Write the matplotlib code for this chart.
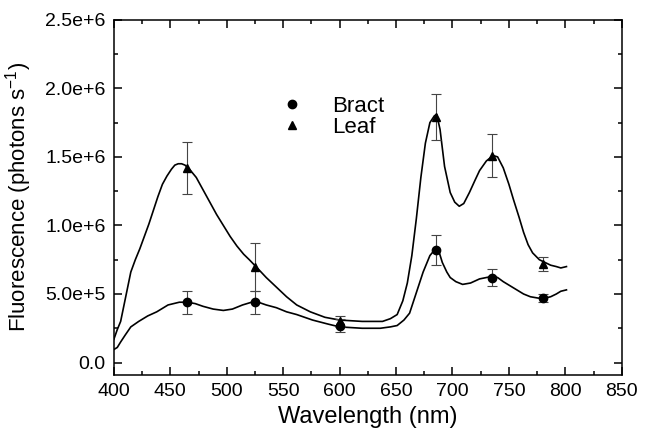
"""
Fluorescence emission spectra of bract vs leaf, with mean +/- error markers.
"""
import numpy as np
import matplotlib
matplotlib.use("Agg")
import matplotlib.pyplot as plt
from matplotlib.ticker import MultipleLocator, FuncFormatter

plt.rcParams["font.family"] = ["Liberation Sans", "DejaVu Sans"]
plt.rcParams["mathtext.default"] = "regular"

# spectra (wavelength nm, photons/s in units of 1e6)
leaf_wl = [400, 403, 406, 410, 415, 419, 423, 427, 431, 435, 439, 443, 447, 451,
           454, 457, 460, 463, 467, 473, 479, 485, 491, 497, 503, 509, 515, 520,
           527, 535, 544, 553, 562, 574, 587, 600, 620, 638, 645, 651, 656, 660,
           664, 668, 672, 676, 680, 684, 686, 689, 693, 698, 702, 706, 710, 715,
           720, 724, 730, 736, 740, 745, 750, 754, 759, 763, 767, 771, 777, 782,
           787, 792, 796, 801]
leaf_sp = [0.17, 0.24, 0.30, 0.46, 0.66, 0.75, 0.83, 0.92, 1.01, 1.11, 1.21, 1.30,
           1.36, 1.41, 1.44, 1.45, 1.45, 1.44, 1.41, 1.35, 1.26, 1.17, 1.08, 1.00,
           0.92, 0.85, 0.79, 0.75, 0.69, 0.62, 0.55, 0.48, 0.42, 0.37, 0.33, 0.31,
           0.30, 0.30, 0.32, 0.35, 0.45, 0.58, 0.78, 1.05, 1.35, 1.60, 1.75, 1.80,
           1.81, 1.70, 1.43, 1.24, 1.17, 1.14, 1.16, 1.24, 1.33, 1.40, 1.47, 1.51,
           1.50, 1.42, 1.30, 1.19, 1.06, 0.95, 0.86, 0.80, 0.75, 0.73, 0.71, 0.70,
           0.69, 0.70]

bract_wl = [400, 403, 406, 410, 415, 422, 430, 438, 448, 458, 465, 472, 479, 488,
            497, 505, 514, 522, 528, 535, 544, 553, 562, 576, 590, 600, 620, 636,
            645, 651, 657, 662, 668, 674, 680, 683, 686, 688, 691, 695, 698, 703,
            709, 716, 724, 730, 736, 740, 745, 751, 757, 763, 769, 776, 782, 787,
            792, 796, 801]
bract_sp = [0.095, 0.11, 0.15, 0.20, 0.26, 0.30, 0.34, 0.37, 0.42, 0.44, 0.44,
            0.43, 0.41, 0.39, 0.38, 0.39, 0.42, 0.44, 0.44, 0.42, 0.40, 0.37,
            0.35, 0.31, 0.28, 0.26, 0.25, 0.25, 0.26, 0.27, 0.31, 0.36, 0.51,
            0.66, 0.78, 0.81, 0.83, 0.81, 0.73, 0.66, 0.62, 0.59, 0.57, 0.58,
            0.61, 0.62, 0.63, 0.62, 0.59, 0.56, 0.53, 0.50, 0.48, 0.47, 0.47,
            0.48, 0.50, 0.52, 0.53]

# measured points with error bars
pt_wl = [465, 525, 600, 685, 735, 780]
leaf_pt = [1.42, 0.70, 0.30, 1.79, 1.51, 0.72]
leaf_err = [0.19, 0.175, 0.04, 0.17, 0.155, 0.05]
bract_pt = [0.44, 0.44, 0.27, 0.82, 0.62, 0.47]
bract_err = [0.085, 0.085, 0.05, 0.11, 0.065, 0.03]

SCALE = 1e6


def sci_fmt(v, pos):
    if abs(v) < 1e-9:
        return "0.0"
    exp = int(np.floor(np.log10(abs(v))))
    return f"{v / 10**exp:.1f}e+{exp}"


fig = plt.figure(figsize=(6.47, 4.40), dpi=100)
ax = fig.add_axes([0.176, 0.148, 0.785, 0.807])

ax.plot(leaf_wl, np.array(leaf_sp) * SCALE, color="black", lw=1.2)
ax.plot(bract_wl, np.array(bract_sp) * SCALE, color="black", lw=1.2)

ax.errorbar(pt_wl, np.array(leaf_pt) * SCALE, yerr=np.array(leaf_err) * SCALE,
            fmt="none", ecolor="#444444", elinewidth=0.8, capsize=3.5, capthick=0.8)
ax.errorbar(pt_wl, np.array(bract_pt) * SCALE, yerr=np.array(bract_err) * SCALE,
            fmt="none", ecolor="#444444", elinewidth=0.8, capsize=3.5, capthick=0.8)
ax.plot(pt_wl, np.array(bract_pt) * SCALE, "o", color="black", ms=6, label="Bract")
ax.plot(pt_wl, np.array(leaf_pt) * SCALE, "^", color="black", ms=6, label="Leaf")

ax.set_xlim(400, 850)
ax.set_ylim(-0.09e6, 2.5e6)
ax.xaxis.set_major_locator(MultipleLocator(50))
ax.xaxis.set_minor_locator(MultipleLocator(25))
ax.yaxis.set_major_locator(MultipleLocator(0.5e6))
ax.yaxis.set_minor_locator(MultipleLocator(0.25e6))
ax.yaxis.set_major_formatter(FuncFormatter(sci_fmt))

ax.tick_params(which="both", direction="in", top=True, right=True, width=1.1)
ax.tick_params(which="major", length=5.5, labelsize=14, pad=6)
ax.tick_params(which="minor", length=3)
for s in ax.spines.values():
    s.set_linewidth(1.1)

ax.set_xlabel("Wavelength (nm)", fontsize=17, labelpad=4)
ax.set_ylabel("Fluorescence (photons s$^{-1}$)", fontsize=16, labelpad=8)

ax.legend(frameon=False, fontsize=16, loc="upper left",
          bbox_to_anchor=(0.312, 0.81), handletextpad=1.3, labelspacing=0.0,
          handlelength=1.0, borderaxespad=0)

fig.savefig("out.png", dpi=100)
